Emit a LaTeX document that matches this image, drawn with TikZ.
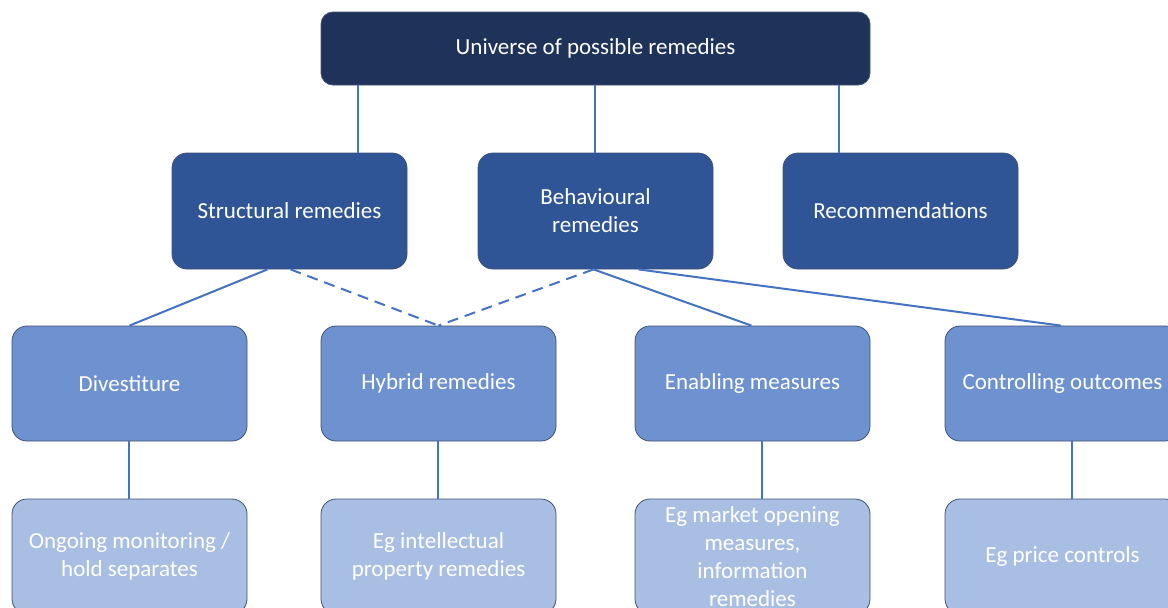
\documentclass[tikz,border=0pt]{standalone}
\usepackage{fontspec}
\setmainfont{Carlito}
\usetikzlibrary{calc}
\definecolor{navy}{HTML}{1F3259}
\definecolor{mid}{HTML}{2F5597}
\definecolor{light}{HTML}{6E91D0}
\definecolor{pale}{HTML}{A8BEE3}
\definecolor{edge}{HTML}{3F5275}
\definecolor{link}{HTML}{4472C4}
\begin{document}
\begin{tikzpicture}[x=1pt,y=-1pt,
  box/.style={draw=edge, line width=0.8pt, rounded corners=15pt, text=white,
    align=center, inner sep=0pt, font=\fontsize{23}{28}\selectfont,
    minimum width=235pt, minimum height=115pt},
  topbox/.style={box, fill=navy, minimum width=549pt, minimum height=73pt, rounded corners=12pt},
  lvtwo/.style={box, fill=mid, minimum height=116pt},
  lvthree/.style={box, fill=light},
  lvfour/.style={box, fill=pale},
  conn/.style={draw=link, line width=2pt},
  dconn/.style={conn, dash pattern=on 11pt off 7pt}]
\useasboundingbox (0,0) rectangle (1168,608);
\clip (0,0) rectangle (1168,608);

\node[topbox] (top) at (595.5,48.5) {Universe of possible remedies};

\node[lvtwo] (struct) at (289.5,211) {Structural remedies};
\node[lvtwo] (behav) at (595.5,211) {Behavioural\\remedies};
\node[lvtwo] (rec) at (900.5,211) {Recommendations};

\node[lvthree] (div) at (129.5,383.5) {Divestiture};
\node[lvthree] (hyb) at (438.5,383.5) {Hybrid remedies};
\node[lvthree] (ena) at (752.5,383.5) {Enabling measures};
\node[lvthree] (ctl) at (1062.5,383.5) {Controlling outcomes};

\node[lvfour] (mon) at (129.5,556.5) {Ongoing monitoring /\\hold separates};
\node[lvfour] (ip) at (438.5,556.5) {Eg intellectual\\property remedies};
\node[lvfour] (mkt) at (752.5,556.5) {Eg market opening\\measures,\\information\\remedies};
\node[lvfour] (price) at (1062.5,556.5) {Eg price controls};

% x positions of vertical links
\coordinate (xa) at (358,0);
\coordinate (xb) at (595,0);
\coordinate (xc) at (838.5,0);
\coordinate (xd) at (128.5,0);
\coordinate (xe) at (438,0);
\coordinate (xf) at (761.5,0);
\coordinate (xg) at (1071.5,0);

\draw[conn] (top.south -| xa) -- (struct.north -| xa);
\draw[conn] (top.south -| xb) -- (behav.north -| xb);
\draw[conn] (top.south -| xc) -- (rec.north -| xc);

\coordinate (s1) at ($(struct.south)+(-22,0)$);
\coordinate (s2) at ($(struct.south)+(1,0)$);
\coordinate (b1) at ($(behav.south)+(-2,0)$);
\coordinate (b2) at ($(behav.south)+(43,0)$);
\draw[conn] (s1) -- (div.north);
\draw[dconn] (s2) -- (hyb.north);
\draw[dconn] (b1) -- (hyb.north);
\draw[conn] (b1) -- ($(ena.north)+(-1,0)$);
\draw[conn] (b2) -- ($(ctl.north)+(-1.5,0)$);

\draw[conn] (div.south -| xd) -- (mon.north -| xd);
\draw[conn] (hyb.south -| xe) -- (ip.north -| xe);
\draw[conn] (ena.south -| xf) -- (mkt.north -| xf);
\draw[conn] (ctl.south -| xg) -- (price.north -| xg);
\end{tikzpicture}
\end{document}
